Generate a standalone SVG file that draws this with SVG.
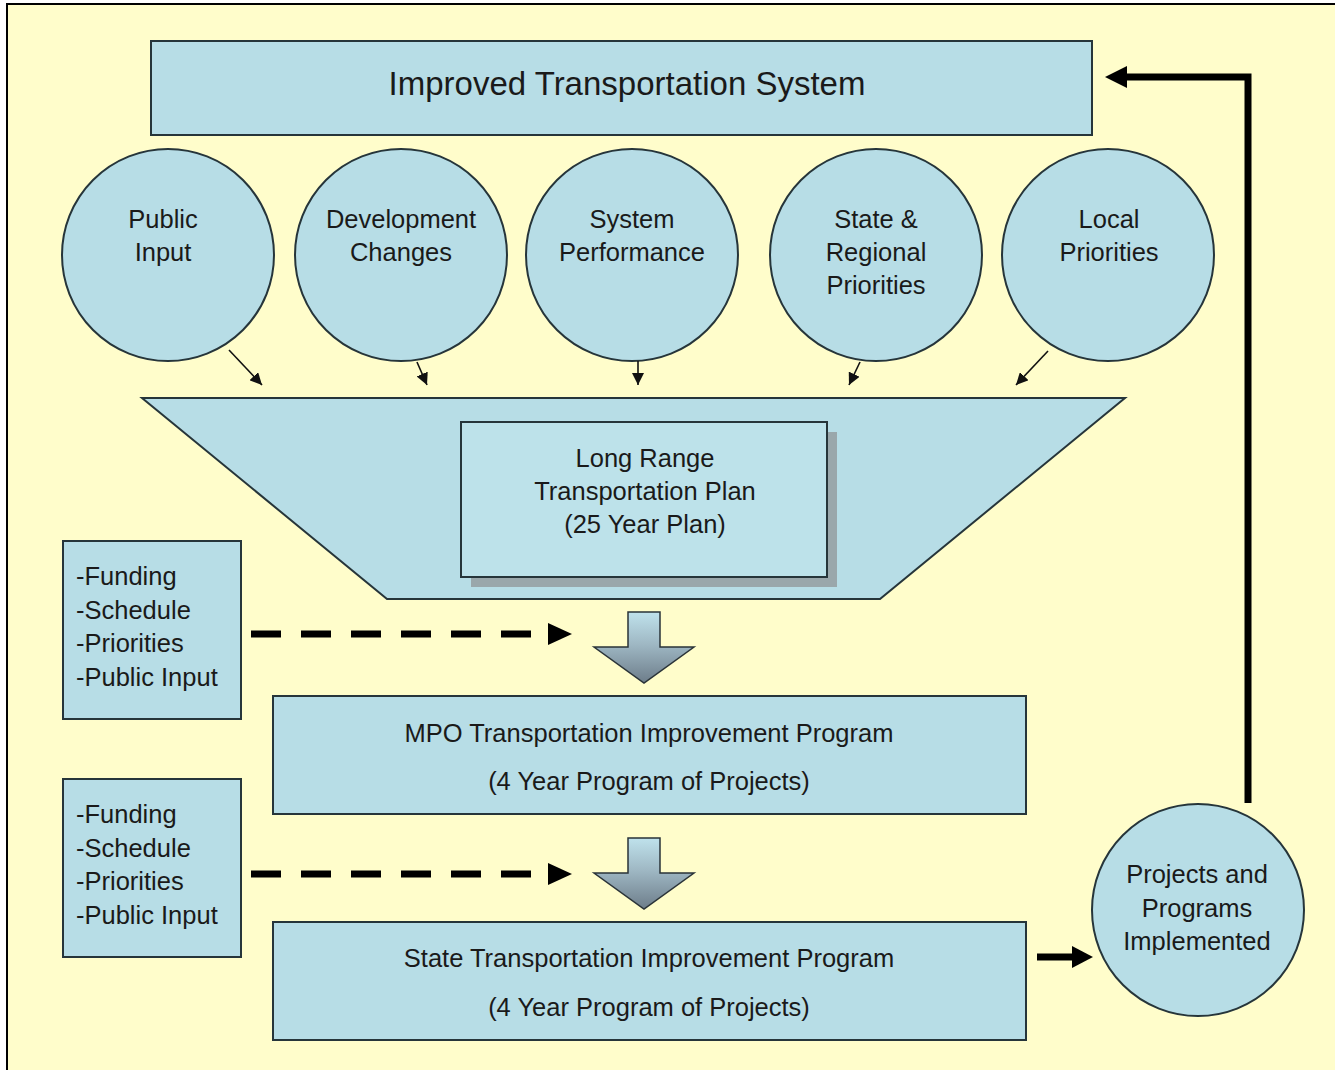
<svg xmlns="http://www.w3.org/2000/svg" width="1335" height="1073" viewBox="0 0 1335 1073">
<defs>
<style>
.box{fill:#b7dde6;stroke:#26353a;stroke-width:2}
.t{font-family:"Liberation Sans",Arial,sans-serif;font-size:25.5px;fill:#1a1a1a;text-anchor:middle}
.tl{font-family:"Liberation Sans",Arial,sans-serif;font-size:25.5px;fill:#1a1a1a}
.thin{stroke:#111;stroke-width:1.6;fill:none}
.thick{stroke:#000;stroke-width:7;fill:none}
.dash{stroke:#000;stroke-width:7;fill:none;stroke-dasharray:30 20}
.head{fill:#000}
.barrow{fill:url(#bg);stroke:#2a3338;stroke-width:1.5}
</style>
<linearGradient id="bg" x1="0" y1="0" x2="0" y2="1">
<stop offset="0" stop-color="#bfe2ec"/>
<stop offset="0.45" stop-color="#9fb8c4"/>
<stop offset="1" stop-color="#6d7d8a"/>
</linearGradient>
<marker id="sm" markerUnits="userSpaceOnUse" markerWidth="14" markerHeight="12" refX="12" refY="6" orient="auto">
<path d="M0,0 L12,6 L0,12 Z" fill="#111"/>
</marker>
</defs>
<rect x="0" y="0" width="1335" height="1073" fill="#ffffff"/>
<rect x="7" y="4" width="1328" height="1066" fill="#fffdcb"/>
<path d="M7,1070 L7,4 L1335,4" fill="none" stroke="#000" stroke-width="2"/>

<g id="improved-system">
<rect class="box" x="151" y="41" width="941" height="94"/>
<text class="t" x="627" y="95" style="font-size:33px">Improved Transportation System</text>
</g>

<g id="public-input">
<circle class="box" cx="168" cy="255" r="106"/>
<text class="t" x="163" y="228">Public</text>
<text class="t" x="163" y="261">Input</text>
</g>
<g id="development-changes">
<circle class="box" cx="401" cy="255" r="106"/>
<text class="t" x="401" y="228">Development</text>
<text class="t" x="401" y="261">Changes</text>
</g>
<g id="system-performance">
<circle class="box" cx="632" cy="255" r="106"/>
<text class="t" x="632" y="228">System</text>
<text class="t" x="632" y="261">Performance</text>
</g>
<g id="state-regional">
<circle class="box" cx="876" cy="255" r="106"/>
<text class="t" x="876" y="228">State &amp;</text>
<text class="t" x="876" y="261">Regional</text>
<text class="t" x="876" y="294">Priorities</text>
</g>
<g id="local-priorities">
<circle class="box" cx="1108" cy="255" r="106"/>
<text class="t" x="1109" y="228">Local</text>
<text class="t" x="1109" y="261">Priorities</text>
</g>

<g id="funnel">
<polygon class="box" points="142,398 1125,398 880,599 387,599"/>
</g>
<g id="lrtp">
<rect x="471" y="432" width="366" height="155" fill="#9aa7ab"/>
<rect class="box" x="461" y="422" width="366" height="155" style="fill:#bde2ea"/>
<text class="t" x="645" y="467">Long Range</text>
<text class="t" x="645" y="500">Transportation Plan</text>
<text class="t" x="645" y="533">(25 Year Plan)</text>
</g>

<g id="inputs-1">
<rect class="box" x="63" y="541" width="178" height="178"/>
<text class="tl" x="76" y="585">-Funding</text>
<text class="tl" x="76" y="619">-Schedule</text>
<text class="tl" x="76" y="652">-Priorities</text>
<text class="tl" x="76" y="686">-Public Input</text>
</g>
<g id="mpo-tip">
<rect class="box" x="273" y="696" width="753" height="118"/>
<text class="t" x="649" y="742">MPO Transportation Improvement Program</text>
<text class="t" x="649" y="790">(4 Year Program of Projects)</text>
</g>
<g id="inputs-2">
<rect class="box" x="63" y="779" width="178" height="178"/>
<text class="tl" x="76" y="823">-Funding</text>
<text class="tl" x="76" y="857">-Schedule</text>
<text class="tl" x="76" y="890">-Priorities</text>
<text class="tl" x="76" y="924">-Public Input</text>
</g>
<g id="state-tip">
<rect class="box" x="273" y="922" width="753" height="118"/>
<text class="t" x="649" y="967">State Transportation Improvement Program</text>
<text class="t" x="649" y="1016">(4 Year Program of Projects)</text>
</g>
<g id="projects-implemented">
<circle class="box" cx="1198" cy="910" r="106"/>
<text class="t" x="1197" y="883">Projects and</text>
<text class="t" x="1197" y="917">Programs</text>
<text class="t" x="1197" y="950">Implemented</text>
</g>

<g id="connectors">
<line class="thin" x1="229" y1="350" x2="262" y2="385" marker-end="url(#sm)"/>
<line class="thin" x1="417" y1="362" x2="427" y2="385" marker-end="url(#sm)"/>
<line class="thin" x1="638" y1="361" x2="638" y2="385" marker-end="url(#sm)"/>
<line class="thin" x1="860" y1="362" x2="849" y2="385" marker-end="url(#sm)"/>
<line class="thin" x1="1048" y1="351" x2="1016" y2="385" marker-end="url(#sm)"/>

<line class="dash" x1="251" y1="634" x2="549" y2="634"/>
<polygon class="head" points="548,623 572,634 548,645"/>
<line class="dash" x1="251" y1="874" x2="549" y2="874"/>
<polygon class="head" points="548,863 572,874 548,885"/>

<polygon class="barrow" points="628,612 660,612 660,647 694,647 644,683 594,647 628,647"/>
<polygon class="barrow" points="628,838 660,838 660,873 694,873 644,909 594,873 628,873"/>

<line class="thick" x1="1037" y1="957" x2="1074" y2="957"/>
<polygon class="head" points="1072,946 1093,957 1072,968"/>

<polyline class="thick" points="1248,803 1248,77 1124,77" style="stroke-linejoin:miter"/>
<polygon class="head" points="1127,66 1105,77 1127,88"/>
</g>
</svg>
